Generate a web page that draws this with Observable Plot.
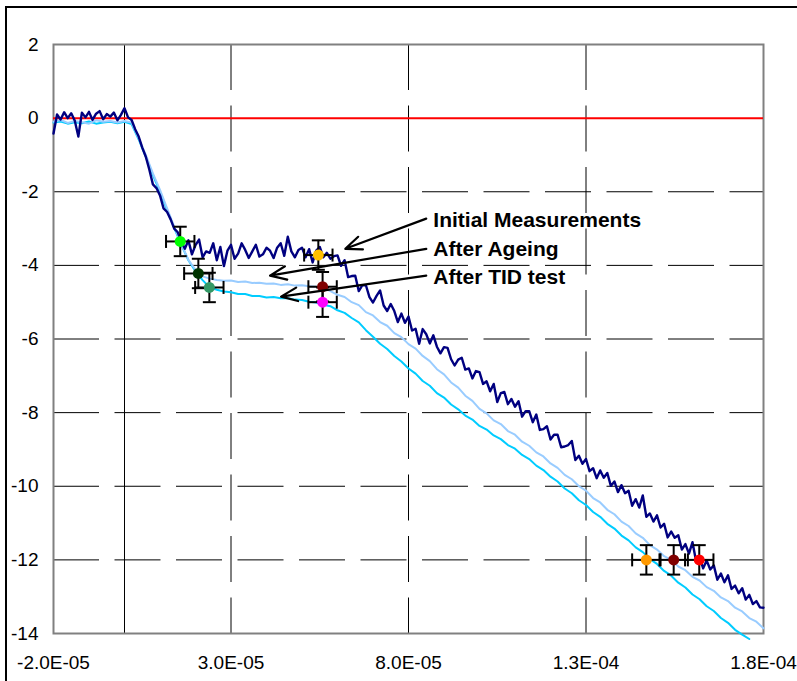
<!DOCTYPE html>
<html><head><meta charset="utf-8">
<script src="https://cdn.jsdelivr.net/npm/d3@7"></script>
<script src="https://cdn.jsdelivr.net/npm/@observablehq/plot@0.6"></script>
<style>
body{margin:0;background:#fff;overflow:hidden;}
#wrap{position:relative;width:797px;height:681px;overflow:hidden;}
#border{position:absolute;left:5px;top:6px;width:820px;height:720px;border:2px solid #000;pointer-events:none;}
</style></head><body><div id="wrap"><div id="chart"></div><div id="border"></div></div>
<script>
// ---- data ----
const tStart = -2.0e-5;
const stepInitial = 1e-6;   // sampling of the "Initial Measurements" trace
const stepOther = 2e-6;     // sampling of the two other traces

const initialMeasurements = [
 -0.42, 0.10, -0.04, 0.16, 0.00, 0.13, -0.07, -0.50, 0.15, 0.02,
 0.17, -0.05, 0.12, 0.19, -0.03, 0.11, 0.04, 0.15, -0.06, 0.09,
 0.27, 0.02, -0.05, -0.30, -0.50, -0.80, -1.05, -1.40, -1.80, -1.90,
 -2.10, -2.45, -2.55, -2.75, -3.00, -3.10, -3.35, -3.55, -3.32, -3.70,
 -3.45, -3.30, -3.78, -3.62, -3.66, -3.40, -3.86, -3.50, -4.02, -3.60,
 -3.44, -3.82, -3.68, -3.40, -3.58, -3.80, -3.62, -3.44, -3.76, -3.70,
 -3.52, -3.60, -3.80, -3.52, -3.40, -3.74, -3.22, -3.62, -3.78, -3.58,
 -3.52, -3.78, -3.56, -3.92, -3.60, -3.50, -3.78, -3.66, -3.82, -3.75,
 -3.73, -4.01, -3.86, -4.32, -4.29, -4.28, -4.70, -4.54, -4.54, -4.86,
 -5.01, -4.83, -4.68, -5.09, -5.24, -5.05, -5.24, -5.54, -5.31, -5.56,
 -5.39, -5.77, -5.72, -6.13, -5.73, -5.87, -6.12, -5.90, -6.21, -6.39,
 -6.22, -6.24, -6.55, -6.72, -6.56, -6.51, -6.83, -6.80, -7.07, -6.87,
 -6.90, -7.22, -7.15, -7.42, -7.22, -7.71, -7.47, -7.44, -7.77, -7.63,
 -7.84, -7.69, -8.11, -7.96, -7.96, -8.26, -8.05, -8.47, -8.45, -8.37,
 -8.73, -8.60, -8.60, -8.94, -8.92, -8.88, -8.77, -9.29, -9.17, -9.39,
 -9.26, -9.59, -9.51, -9.78, -9.57, -9.77, -9.64, -9.99, -9.87, -10.16,
 -9.97, -10.19, -10.12, -10.53, -10.35, -10.58, -10.25, -10.83, -10.74, -10.96,
 -10.79, -11.12, -11.02, -11.39, -11.23, -11.40, -11.33, -11.72, -11.57, -11.83,
 -11.52, -12.03, -11.94, -12.23, -12.02, -12.26, -12.15, -12.54, -12.37, -12.61,
 -12.42, -12.79, -12.70, -12.91, -12.77, -13.08, -12.95, -13.20, -13.12, -13.29,
 -13.30
];

const afterAgeing = [
 -0.10, -0.05, -0.13, -0.08, -0.11, -0.15, -0.06, -0.10, -0.08, -0.12,
 -0.08, -0.12, -0.55, -1.00, -1.50, -1.95, -2.45, -2.95, -3.42, -3.85,
 -4.12, -4.30, -4.36, -4.40, -4.42, -4.41, -4.45, -4.44, -4.48, -4.47,
 -4.50, -4.49, -4.53, -4.51, -4.55, -4.54, -4.57, -4.58, -4.62, -4.70,
 -4.80, -4.86, -5.00, -5.08, -5.27, -5.36, -5.54, -5.64, -5.84, -5.95,
 -6.14, -6.26, -6.46, -6.60, -6.82, -6.96, -7.18, -7.32, -7.54, -7.68,
 -7.90, -8.02, -8.21, -8.31, -8.50, -8.60, -8.79, -8.90, -9.08, -9.19,
 -9.38, -9.50, -9.69, -9.81, -10.00, -10.12, -10.32, -10.44, -10.64, -10.76,
 -10.96, -11.08, -11.28, -11.40, -11.60, -11.72, -11.90, -12.00, -12.18, -12.28,
 -12.46, -12.56, -12.74, -12.84, -13.02, -13.12, -13.30, -13.40, -13.58, -13.68,
 -13.86
];

const afterTID = [
 -0.12, -0.09, -0.15, -0.11, -0.14, -0.09, -0.15, -0.12, -0.10, -0.14,
 -0.10, -0.16, -0.58, -1.05, -1.55, -2.00, -2.50, -2.98, -3.44, -3.86,
 -4.16, -4.40, -4.60, -4.66, -4.71, -4.73, -4.78, -4.78, -4.83, -4.83,
 -4.87, -4.86, -4.89, -4.89, -4.93, -4.94, -4.99, -5.01, -5.07, -5.11,
 -5.22, -5.29, -5.43, -5.55, -5.76, -5.94, -6.13, -6.27, -6.46, -6.61,
 -6.80, -6.94, -7.14, -7.27, -7.47, -7.59, -7.78, -7.91, -8.08, -8.19,
 -8.36, -8.46, -8.62, -8.72, -8.88, -8.98, -9.15, -9.26, -9.44, -9.56,
 -9.74, -9.87, -10.06, -10.19, -10.38, -10.51, -10.70, -10.83, -11.02, -11.15,
 -11.34, -11.47, -11.66, -11.79, -11.98, -12.11, -12.30, -12.43, -12.62, -12.75,
 -12.94, -13.07, -13.26, -13.39, -13.58, -13.71, -13.90, -14.03, -14.15
];

// measured points with error bars
const pointT = [1.57e-5, 2.08e-5, 2.39e-5, 5.46e-5, 5.58e-5, 5.58e-5, 1.47e-4, 1.547e-4, 1.619e-4];
const pointV = [-3.35, -4.22, -4.60, -3.72, -4.58, -5.00, -12.0, -12.0, -12.0];
const pointColor = ["#00ff00", "#003300", "#339966", "#ffc000", "#800000", "#ff00ff", "#ff9900", "#800000", "#ff0000"];
const errT = 0.4e-5;
const errV = 0.4;

// annotations
const labelText = ["Initial Measurements", "After Ageing", "After TID test"];
const labelT = [8.7e-5, 8.7e-5, 8.7e-5];
const labelV = [-2.77, -3.55, -4.33];
const arrowFromT = [8.5e-5, 8.5e-5, 8.5e-5];
const arrowFromV = [-2.73, -3.55, -4.28];
const arrowToT = [6.22e-5, 4.10e-5, 4.41e-5];
const arrowToV = [-3.55, -4.28, -4.85];

// axes
const xTicks = [-2.0e-5, 3.0e-5, 8.0e-5, 1.3e-4, 1.8e-4];
const xTickLabels = ["-2.0E-05", "3.0E-05", "8.0E-05", "1.3E-04", "1.8E-04"];
const yTicks = [2, 0, -2, -4, -6, -8, -10, -12, -14];
const yGrid = [-2, -4, -6, -8, -10, -12];
const xGrid = [3.0e-5, 8.0e-5, 1.3e-4];

// ---- build ----
const toRows = (arr, step) => arr.map((v, i) => ({t: tStart + i * step, v}));
const rowsInitial = toRows(initialMeasurements, stepInitial);
const rowsAgeing = toRows(afterAgeing, stepOther);
const rowsTID = toRows(afterTID, stepOther);
const points = pointT.map((t, i) => ({t, v: pointV[i], c: pointColor[i]}));
const labels = labelText.map((s, i) => ({s, t: labelT[i], v: labelV[i]}));
const arrows = arrowFromT.map((t, i) => ({t1: t, v1: arrowFromV[i], t2: arrowToT[i], v2: arrowToV[i]}));

const hbar = {draw(ctx, size) { const w = Math.sqrt(size / Math.PI); ctx.moveTo(-w, 0); ctx.lineTo(w, 0); }};
const vbar = {draw(ctx, size) { const w = Math.sqrt(size / Math.PI); ctx.moveTo(0, -w); ctx.lineTo(0, w); }};

const capsV = points.flatMap(p => [{t: p.t, v: p.v - errV}, {t: p.t, v: p.v + errV}]);
const capsH = points.flatMap(p => [{t: p.t - errT, v: p.v}, {t: p.t + errT, v: p.v}]);

const chart = Plot.plot({
  width: 797,
  height: 681,
  marginLeft: 53,
  marginRight: 34,
  marginTop: 44,
  marginBottom: 48,
  style: {fontFamily: "'Liberation Sans', Arial, sans-serif", fontSize: "19px", color: "#000", background: "transparent"},
  x: {domain: [-2e-5, 1.8e-4], ticks: xTicks, tickSize: 0, tickPadding: 22, label: null,
      tickFormat: d => { const i = xTicks.findIndex(x => Math.abs(x - d) < 1e-12); return i >= 0 ? xTickLabels[i] : ""; }},
  y: {domain: [-14, 2], ticks: yTicks, tickSize: 0, tickPadding: 15, label: null, tickFormat: d => String(d)},
  marks: [
    Plot.ruleY(yGrid, {stroke: "#000", strokeWidth: 1, strokeDasharray: "46,15.5"}),
    Plot.ruleX(xGrid, {stroke: "#000", strokeWidth: 1, strokeDasharray: "46,15.5"}),
    Plot.ruleX([0], {stroke: "#000", strokeWidth: 1}),
    Plot.frame({stroke: "#808080", strokeWidth: 2}),
    Plot.ruleY([0], {stroke: "#ff0000", strokeWidth: 2}),
    Plot.line(rowsTID, {x: "t", y: "v", stroke: "#00ccff", strokeWidth: 2}),
    Plot.line(rowsAgeing, {x: "t", y: "v", stroke: "#99ccff", strokeWidth: 2}),
    Plot.line(rowsInitial, {x: "t", y: "v", stroke: "#000080", strokeWidth: 2.4}),
    Plot.ruleX(points, {x: "t", y1: d => d.v - errV, y2: d => d.v + errV, stroke: "#000", strokeWidth: 2}),
    Plot.ruleY(points, {y: "v", x1: d => d.t - errT, x2: d => d.t + errT, stroke: "#000", strokeWidth: 2}),
    Plot.dot(capsV, {x: "t", y: "v", symbol: hbar, r: 6.5, fill: "none", stroke: "#000", strokeWidth: 2}),
    Plot.dot(capsH, {x: "t", y: "v", symbol: vbar, r: 6.5, fill: "none", stroke: "#000", strokeWidth: 2}),
    Plot.dot(points, {x: "t", y: "v", r: 5.5, fill: "c", stroke: "none"}),
    Plot.arrow(arrows, {x1: "t1", y1: "v1", x2: "t2", y2: "v2", stroke: "#000", strokeWidth: 2.2, headLength: 12, headAngle: 45}),
    Plot.text(labels, {x: "t", y: "v", text: "s", textAnchor: "start", lineAnchor: "middle", fontSize: 21, fontWeight: "bold", fill: "#000"})
  ]
});
document.getElementById("chart").appendChild(chart);
</script>
</body></html>
